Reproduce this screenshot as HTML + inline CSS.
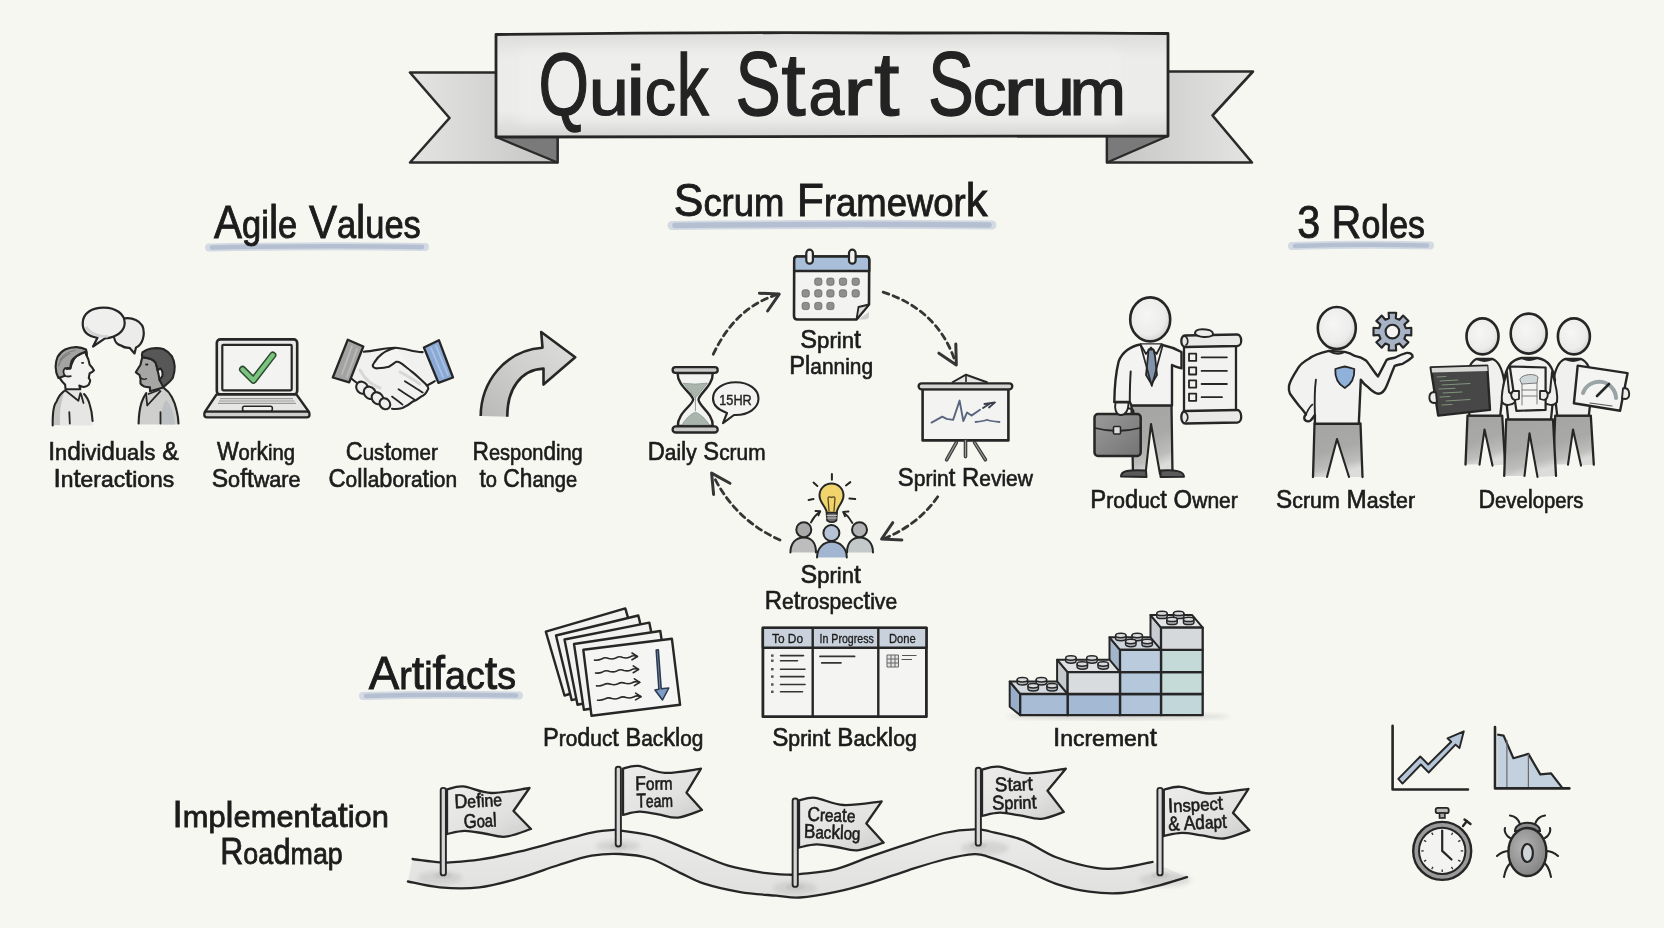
<!DOCTYPE html>
<html><head><meta charset="utf-8"><title>Quick Start Scrum</title>
<style>html,body{margin:0;padding:0;background:#f7f7f2;}svg{display:block;will-change:transform;}text{font-family:"Liberation Sans",sans-serif;}</style>
</head><body>
<svg width="1664" height="928" viewBox="0 0 1664 928" font-family="Liberation Sans, sans-serif">
<defs>
<linearGradient id="bodyg" x1="0" y1="0" x2="0" y2="1">
<stop offset="0" stop-color="#dcdcdb"/><stop offset="0.25" stop-color="#ececea"/><stop offset="0.75" stop-color="#ececea"/><stop offset="1" stop-color="#d6d6d5"/></linearGradient>
<linearGradient id="tailg" x1="0" y1="0" x2="1" y2="0">
<stop offset="0" stop-color="#e4e4e2"/><stop offset="0.6" stop-color="#d2d2d1"/><stop offset="1" stop-color="#c4c4c3"/></linearGradient>
<linearGradient id="tailg2" x1="1" y1="0" x2="0" y2="0">
<stop offset="0" stop-color="#e4e4e2"/><stop offset="0.6" stop-color="#d2d2d1"/><stop offset="1" stop-color="#c4c4c3"/></linearGradient>
<linearGradient id="arrg" x1="0" y1="1" x2="1" y2="0"><stop offset="0" stop-color="#b9b9b8"/><stop offset="0.5" stop-color="#cfcfce"/><stop offset="1" stop-color="#dededd"/></linearGradient>
<radialGradient id="headg" cx="0.42" cy="0.4" r="0.65"><stop offset="0" stop-color="#f6f6f5"/><stop offset="0.7" stop-color="#ececeb"/><stop offset="1" stop-color="#cfcfce"/></radialGradient>
<linearGradient id="pantg" x1="0" y1="0" x2="1" y2="1"><stop offset="0" stop-color="#949494"/><stop offset="0.5" stop-color="#a9a9a9"/><stop offset="1" stop-color="#c4c4c3"/></linearGradient>
<linearGradient id="bcg" x1="0" y1="0" x2="1" y2="1"><stop offset="0" stop-color="#9a9a9a"/><stop offset="1" stop-color="#747474"/></linearGradient>
<linearGradient id="flagg" x1="0" y1="0" x2="1" y2="1"><stop offset="0" stop-color="#ececeb"/><stop offset="0.6" stop-color="#e2e2e1"/><stop offset="1" stop-color="#cdcdcc"/></linearGradient>
<linearGradient id="roadg" x1="0" y1="0" x2="0" y2="1"><stop offset="0" stop-color="#ebebe9"/><stop offset="1" stop-color="#e0e0de"/></linearGradient>
<radialGradient id="bugg" cx="0.4" cy="0.4" r="0.7"><stop offset="0" stop-color="#b4b4b4"/><stop offset="1" stop-color="#7e7e7e"/></radialGradient>
<linearGradient id="pantv" x1="0" y1="0" x2="0.25" y2="1"><stop offset="0" stop-color="#a4a4a3"/><stop offset="0.55" stop-color="#a9a9a8"/><stop offset="0.85" stop-color="#bdbdbc"/><stop offset="1" stop-color="#dcdcda"/></linearGradient>
<filter id="blur4"><feGaussianBlur stdDeviation="4"/></filter>
<filter id="blur2"><feGaussianBlur stdDeviation="2"/></filter>
<filter id="blur1"><feGaussianBlur stdDeviation="1"/></filter>
<filter id="soft"><feGaussianBlur stdDeviation="0.35"/></filter>
</defs>
<rect width="1664" height="928" fill="#f7f7f2"/>
<g id="banner">
<path d="M410,72.5 L497,72.5 L497,137 L557.5,137 L557.5,162.5 L410,162.5 L449.5,118 Z" fill="url(#tailg)" stroke="#2a2a2a" stroke-width="2.6" stroke-linejoin="round"/>
<path d="M496,137 L557.5,137 L557.5,162.5 Z" fill="#7a7a7a" stroke="#2a2a2a" stroke-width="2.2" stroke-linejoin="round"/>
<path d="M1253,71.5 L1167,71.5 L1167,136 L1107,136 L1107,162.5 L1252,162.5 L1212.5,115.5 Z" fill="url(#tailg2)" stroke="#2a2a2a" stroke-width="2.6" stroke-linejoin="round"/>
<path d="M1168,136 L1107,136 L1107,162.5 Z" fill="#7a7a7a" stroke="#2a2a2a" stroke-width="2.2" stroke-linejoin="round"/>
<path d="M496,34.5 Q700,32 900,33 Q1050,32.5 1168,33.5 L1168,136 Q900,137.5 496,137 Z" fill="url(#bodyg)" stroke="#262626" stroke-width="2.8" stroke-linejoin="round"/>
<rect x="520" y="48" width="600" height="76" fill="#f1f1ef" opacity="0.55" filter="url(#blur4)"/>
</g>
<text x="0" y="0" font-size="100" fill="#232323" stroke="#232323" stroke-width="1.57" transform="matrix(0.6490 0 0 0.8822 538.43 114.50)">Q</text>
<text x="0" y="0" font-size="100" fill="#232323" stroke="#232323" stroke-width="1.72" transform="matrix(0.7227 0 0 0.6757 588.81 114.50)">u</text>
<text x="0" y="0" font-size="100" fill="#232323" stroke="#232323" stroke-width="1.52" transform="matrix(0.8761 0 0 0.7038 626.04 114.50)">i</text>
<text x="0" y="0" font-size="100" fill="#232323" stroke="#232323" stroke-width="1.86" transform="matrix(0.6239 0 0 0.6635 644.65 114.50)">c</text>
<text x="0" y="0" font-size="100" fill="#232323" stroke="#232323" stroke-width="1.58" transform="matrix(0.6404 0 0 0.8763 676.68 114.50)">k</text>
<text x="0" y="0" font-size="100" fill="#232323" stroke="#232323" stroke-width="1.51" transform="matrix(0.6775 0 0 0.9137 735.42 115.00)">S</text>
<text x="0" y="0" font-size="100" fill="#232323" stroke="#232323" stroke-width="1.35" transform="matrix(0.8811 0 0 0.8941 781.17 115.00)">t</text>
<text x="0" y="0" font-size="100" fill="#232323" stroke="#232323" stroke-width="1.83" transform="matrix(0.6444 0 0 0.6690 808.46 115.00)">a</text>
<text x="0" y="0" font-size="100" fill="#232323" stroke="#232323" stroke-width="1.53" transform="matrix(0.9040 0 0 0.6690 842.90 115.00)">r</text>
<text x="0" y="0" font-size="100" fill="#232323" stroke="#232323" stroke-width="1.31" transform="matrix(0.9202 0 0 0.9049 874.11 115.00)">t</text>
<text x="0" y="0" font-size="100" fill="#232323" stroke="#232323" stroke-width="1.50" transform="matrix(0.6896 0 0 0.9152 928.07 114.50)">S</text>
<text x="0" y="0" font-size="100" fill="#232323" stroke="#232323" stroke-width="1.78" transform="matrix(0.6749 0 0 0.6728 972.63 114.50)">c</text>
<text x="0" y="0" font-size="100" fill="#232323" stroke="#232323" stroke-width="1.50" transform="matrix(0.9280 0 0 0.6728 1003.04 114.50)">r</text>
<text x="0" y="0" font-size="100" fill="#232323" stroke="#232323" stroke-width="1.62" transform="matrix(0.7957 0 0 0.6852 1031.13 114.50)">u</text>
<text x="0" y="0" font-size="100" fill="#232323" stroke="#232323" stroke-width="1.78" transform="matrix(0.6793 0 0 0.6728 1069.49 114.50)">m</text>
<path d="M209,247.5 Q317.0,245.5 425,247" stroke="#c9d2de" stroke-width="8" stroke-linecap="round" fill="none" opacity="0.8"/>
<path d="M212,247.5 Q317.0,245.5 422,247" stroke="#b0bdcf" stroke-width="4.5" stroke-linecap="round" fill="none" opacity="0.9"/>
<text x="214.07" y="238.3" font-size="47" textLength="206.73" lengthAdjust="spacingAndGlyphs" fill="#1c1c1c" font-weight="normal" stroke="#1c1c1c" stroke-width="0.9"><tspan font-size="47.00">A</tspan><tspan font-size="38.54">gi</tspan><tspan font-size="46.06">l</tspan><tspan font-size="38.54">e</tspan><tspan font-size="47.00"> V</tspan><tspan font-size="38.54">a</tspan><tspan font-size="46.06">l</tspan><tspan font-size="38.54">ues</tspan></text>
<path d="M672,225.5 Q832.0,223.5 992,225" stroke="#c9d2de" stroke-width="9" stroke-linecap="round" fill="none" opacity="0.8"/>
<path d="M675,225.5 Q832.0,223.5 989,225" stroke="#b0bdcf" stroke-width="5.5" stroke-linecap="round" fill="none" opacity="0.9"/>
<text x="673.73" y="216.0" font-size="47" textLength="313.76" lengthAdjust="spacingAndGlyphs" fill="#1c1c1c" font-weight="normal" stroke="#1c1c1c" stroke-width="0.9"><tspan font-size="47.00">S</tspan><tspan font-size="38.54">crum</tspan><tspan font-size="47.00"> F</tspan><tspan font-size="38.54">ramewor</tspan><tspan font-size="46.06">k</tspan></text>
<path d="M1292,246.0 Q1361.0,244.0 1430,245.5" stroke="#c9d2de" stroke-width="8" stroke-linecap="round" fill="none" opacity="0.8"/>
<path d="M1295,246.0 Q1361.0,244.0 1427,245.5" stroke="#b0bdcf" stroke-width="4.5" stroke-linecap="round" fill="none" opacity="0.9"/>
<text x="1297.18" y="238.0" font-size="47" textLength="127.80" lengthAdjust="spacingAndGlyphs" fill="#1c1c1c" font-weight="normal" stroke="#1c1c1c" stroke-width="0.9"><tspan font-size="47.00">3 R</tspan><tspan font-size="38.54">o</tspan><tspan font-size="46.06">l</tspan><tspan font-size="38.54">es</tspan></text>
<path d="M363,696.0 Q441.0,694.0 519,695.5" stroke="#c9d2de" stroke-width="8" stroke-linecap="round" fill="none" opacity="0.8"/>
<path d="M366,696.0 Q441.0,694.0 516,695.5" stroke="#b0bdcf" stroke-width="4.5" stroke-linecap="round" fill="none" opacity="0.9"/>
<text x="368.66" y="689.0" font-size="47" textLength="147.25" lengthAdjust="spacingAndGlyphs" fill="#1c1c1c" font-weight="normal" stroke="#1c1c1c" stroke-width="0.9"><tspan font-size="47.00">A</tspan><tspan font-size="38.54">r</tspan><tspan font-size="46.06">t</tspan><tspan font-size="38.54">i</tspan><tspan font-size="46.06">f</tspan><tspan font-size="38.54">ac</tspan><tspan font-size="46.06">t</tspan><tspan font-size="38.54">s</tspan></text>
<text x="172.61" y="826.9" font-size="36" textLength="216.29" lengthAdjust="spacingAndGlyphs" fill="#1c1c1c" font-weight="normal" stroke="#1c1c1c" stroke-width="0.8"><tspan font-size="36.00">I</tspan><tspan font-size="30.24">mp</tspan><tspan font-size="35.28">l</tspan><tspan font-size="30.24">emen</tspan><tspan font-size="35.28">t</tspan><tspan font-size="30.24">a</tspan><tspan font-size="35.28">t</tspan><tspan font-size="30.24">ion</tspan></text>
<text x="220.28" y="864.4" font-size="36" textLength="122.44" lengthAdjust="spacingAndGlyphs" fill="#1c1c1c" font-weight="normal" stroke="#1c1c1c" stroke-width="0.8"><tspan font-size="36.00">R</tspan><tspan font-size="30.24">oa</tspan><tspan font-size="35.28">d</tspan><tspan font-size="30.24">map</tspan></text>
<text x="48.14" y="460.3" font-size="26" textLength="130.72" lengthAdjust="spacingAndGlyphs" fill="#1c1c1c" font-weight="normal" stroke="#1c1c1c" stroke-width="0.65"><tspan font-size="26.00">I</tspan><tspan font-size="22.88">n</tspan><tspan font-size="25.74">d</tspan><tspan font-size="22.88">ivi</tspan><tspan font-size="25.74">d</tspan><tspan font-size="22.88">ua</tspan><tspan font-size="25.74">l</tspan><tspan font-size="22.88">s</tspan><tspan font-size="26.00"> &amp;</tspan></text>
<text x="53.42" y="487.2" font-size="26" textLength="120.88" lengthAdjust="spacingAndGlyphs" fill="#1c1c1c" font-weight="normal" stroke="#1c1c1c" stroke-width="0.65"><tspan font-size="26.00">I</tspan><tspan font-size="22.88">n</tspan><tspan font-size="25.74">t</tspan><tspan font-size="22.88">erac</tspan><tspan font-size="25.74">t</tspan><tspan font-size="22.88">ions</tspan></text>
<text x="216.92" y="460.3" font-size="26" textLength="78.05" lengthAdjust="spacingAndGlyphs" fill="#1c1c1c" font-weight="normal" stroke="#1c1c1c" stroke-width="0.65"><tspan font-size="26.00">W</tspan><tspan font-size="22.88">or</tspan><tspan font-size="25.74">k</tspan><tspan font-size="22.88">ing</tspan></text>
<text x="211.71" y="487.2" font-size="26" textLength="88.93" lengthAdjust="spacingAndGlyphs" fill="#1c1c1c" font-weight="normal" stroke="#1c1c1c" stroke-width="0.65"><tspan font-size="26.00">S</tspan><tspan font-size="22.88">o</tspan><tspan font-size="25.74">ft</tspan><tspan font-size="22.88">ware</tspan></text>
<text x="345.74" y="460.3" font-size="26" textLength="92.08" lengthAdjust="spacingAndGlyphs" fill="#1c1c1c" font-weight="normal" stroke="#1c1c1c" stroke-width="0.65"><tspan font-size="26.00">C</tspan><tspan font-size="22.88">us</tspan><tspan font-size="25.74">t</tspan><tspan font-size="22.88">omer</tspan></text>
<text x="328.42" y="486.8" font-size="26" textLength="128.61" lengthAdjust="spacingAndGlyphs" fill="#1c1c1c" font-weight="normal" stroke="#1c1c1c" stroke-width="0.65"><tspan font-size="26.00">C</tspan><tspan font-size="22.88">o</tspan><tspan font-size="25.74">ll</tspan><tspan font-size="22.88">a</tspan><tspan font-size="25.74">b</tspan><tspan font-size="22.88">ora</tspan><tspan font-size="25.74">t</tspan><tspan font-size="22.88">ion</tspan></text>
<text x="472.46" y="460.3" font-size="26" textLength="110.21" lengthAdjust="spacingAndGlyphs" fill="#1c1c1c" font-weight="normal" stroke="#1c1c1c" stroke-width="0.65"><tspan font-size="26.00">R</tspan><tspan font-size="22.88">espon</tspan><tspan font-size="25.74">d</tspan><tspan font-size="22.88">ing</tspan></text>
<text x="479.48" y="486.8" font-size="26" textLength="97.69" lengthAdjust="spacingAndGlyphs" fill="#1c1c1c" font-weight="normal" stroke="#1c1c1c" stroke-width="0.65"><tspan font-size="25.74">t</tspan><tspan font-size="22.88">o</tspan><tspan font-size="26.00"> C</tspan><tspan font-size="25.74">h</tspan><tspan font-size="22.88">ange</tspan></text>
<text x="800.28" y="347.9" font-size="26" textLength="60.68" lengthAdjust="spacingAndGlyphs" fill="#1c1c1c" font-weight="normal" stroke="#1c1c1c" stroke-width="0.65"><tspan font-size="26.00">S</tspan><tspan font-size="22.88">prin</tspan><tspan font-size="25.74">t</tspan></text>
<text x="789.28" y="373.9" font-size="26" textLength="83.74" lengthAdjust="spacingAndGlyphs" fill="#1c1c1c" font-weight="normal" stroke="#1c1c1c" stroke-width="0.65"><tspan font-size="26.00">P</tspan><tspan font-size="25.74">l</tspan><tspan font-size="22.88">anning</tspan></text>
<text x="647.68" y="459.9" font-size="26" textLength="117.87" lengthAdjust="spacingAndGlyphs" fill="#1c1c1c" font-weight="normal" stroke="#1c1c1c" stroke-width="0.65"><tspan font-size="26.00">D</tspan><tspan font-size="22.88">ai</tspan><tspan font-size="25.74">l</tspan><tspan font-size="22.88">y</tspan><tspan font-size="26.00"> S</tspan><tspan font-size="22.88">crum</tspan></text>
<text x="897.84" y="486.1" font-size="26" textLength="135.08" lengthAdjust="spacingAndGlyphs" fill="#1c1c1c" font-weight="normal" stroke="#1c1c1c" stroke-width="0.65"><tspan font-size="26.00">S</tspan><tspan font-size="22.88">prin</tspan><tspan font-size="25.74">t</tspan><tspan font-size="26.00"> R</tspan><tspan font-size="22.88">eview</tspan></text>
<text x="800.59" y="582.9" font-size="26" textLength="60.16" lengthAdjust="spacingAndGlyphs" fill="#1c1c1c" font-weight="normal" stroke="#1c1c1c" stroke-width="0.65"><tspan font-size="26.00">S</tspan><tspan font-size="22.88">prin</tspan><tspan font-size="25.74">t</tspan></text>
<text x="764.66" y="609.1" font-size="26" textLength="132.45" lengthAdjust="spacingAndGlyphs" fill="#1c1c1c" font-weight="normal" stroke="#1c1c1c" stroke-width="0.65"><tspan font-size="26.00">R</tspan><tspan font-size="22.88">e</tspan><tspan font-size="25.74">t</tspan><tspan font-size="22.88">rospec</tspan><tspan font-size="25.74">t</tspan><tspan font-size="22.88">ive</tspan></text>
<text x="1090.26" y="508.1" font-size="26" textLength="147.56" lengthAdjust="spacingAndGlyphs" fill="#1c1c1c" font-weight="normal" stroke="#1c1c1c" stroke-width="0.65"><tspan font-size="26.00">P</tspan><tspan font-size="22.88">ro</tspan><tspan font-size="25.74">d</tspan><tspan font-size="22.88">uc</tspan><tspan font-size="25.74">t</tspan><tspan font-size="26.00"> O</tspan><tspan font-size="22.88">wner</tspan></text>
<text x="1276.12" y="508.1" font-size="26" textLength="138.91" lengthAdjust="spacingAndGlyphs" fill="#1c1c1c" font-weight="normal" stroke="#1c1c1c" stroke-width="0.65"><tspan font-size="26.00">S</tspan><tspan font-size="22.88">crum</tspan><tspan font-size="26.00"> M</tspan><tspan font-size="22.88">as</tspan><tspan font-size="25.74">t</tspan><tspan font-size="22.88">er</tspan></text>
<text x="1478.44" y="508.1" font-size="26" textLength="105.07" lengthAdjust="spacingAndGlyphs" fill="#1c1c1c" font-weight="normal" stroke="#1c1c1c" stroke-width="0.65"><tspan font-size="26.00">D</tspan><tspan font-size="22.88">eve</tspan><tspan font-size="25.74">l</tspan><tspan font-size="22.88">opers</tspan></text>
<text x="542.98" y="746.2" font-size="26" textLength="160.33" lengthAdjust="spacingAndGlyphs" fill="#1c1c1c" font-weight="normal" stroke="#1c1c1c" stroke-width="0.65"><tspan font-size="26.00">P</tspan><tspan font-size="22.88">ro</tspan><tspan font-size="25.74">d</tspan><tspan font-size="22.88">uc</tspan><tspan font-size="25.74">t</tspan><tspan font-size="26.00"> B</tspan><tspan font-size="22.88">ac</tspan><tspan font-size="25.74">kl</tspan><tspan font-size="22.88">og</tspan></text>
<text x="772.23" y="746.2" font-size="26" textLength="144.62" lengthAdjust="spacingAndGlyphs" fill="#1c1c1c" font-weight="normal" stroke="#1c1c1c" stroke-width="0.65"><tspan font-size="26.00">S</tspan><tspan font-size="22.88">prin</tspan><tspan font-size="25.74">t</tspan><tspan font-size="26.00"> B</tspan><tspan font-size="22.88">ac</tspan><tspan font-size="25.74">kl</tspan><tspan font-size="22.88">og</tspan></text>
<text x="1052.91" y="746.2" font-size="26" textLength="103.95" lengthAdjust="spacingAndGlyphs" fill="#1c1c1c" font-weight="normal" stroke="#1c1c1c" stroke-width="0.65"><tspan font-size="26.00">I</tspan><tspan font-size="22.88">ncremen</tspan><tspan font-size="25.74">t</tspan></text>
<g id="bubbles" stroke="#262626" stroke-width="2.2" stroke-linejoin="round">
<path d="M121,345.5 C110,343 112.5,322 121,319.5 C130,316 144,320 143.8,333 C143.5,343 138,347 136,347.5 L134.5,353.5 L129.5,347.8 C126,348 123,347 121,345.5 Z" fill="#ececeb"/>
<path d="M97.5,337.8 C86,336 82.5,330 82.7,323 C83,313 92,307.5 104,307.6 C116,307.8 124.8,314 124.7,323 C124.6,331 117,337.5 105,338.4 L93,346.5 Z" fill="#efefee"/>
<path d="M86,327 C90,334 100,337 108,336.5" stroke="#c8c8c8" stroke-width="3" fill="none" opacity="0.7"/>
</g>
<g id="p1" stroke="#262626" stroke-width="2.1" stroke-linejoin="round" stroke-linecap="round">
<path d="M52.7,425.4 C52.5,412 53.5,405 56.5,401.7 C58.5,396 61,393 64.1,391.2 L65.6,389.3 L80.3,389.3 L84.1,394.1 C87,397 88.5,400.5 89.7,404.5 C91.5,410 92.3,415 92.6,421 L92.6,425.4 Z" fill="#e6e6e5" stroke="none"/>
<path d="M52.7,425.4 C52.5,412 53.5,405 56.5,401.7 C58,398 60,394 64.1,391.2" fill="#c9c9c8" stroke="none" opacity="0.6"/>
<path d="M54,425 C54,412 55,406 58,401.5 C60,397.5 62,394 64.1,391.2 L62,400 C60,408 59.5,416 60,425 Z" fill="#c4c4c3" stroke="none"/>
<path d="M52.7,425.4 C52.5,412 53.5,405 56.5,401.7 C58,398 60,394 64.1,391.2" fill="none"/>
<path d="M84.1,394.1 C87,397 88.5,400.5 89.7,404.5 C91.5,410 92.3,415 92.6,421" fill="none"/>
<path d="M65.1,390.3 L78.4,400.7 L80.3,393.1 M81,394 L83.5,403" fill="none" stroke-width="1.8"/>
<path d="M69.3,412.1 L69.8,423.5" fill="none" stroke-width="1.8"/>
<path d="M65.6,389.3 L65.1,384.6 C61,381 58,376 57,370 L70.3,368.5 C72,362 74,358 76.5,356.1 L86,351.4 L86.9,356.1 C88.5,359 89.2,362 89.7,364.7 C91.5,366.5 93,368.5 94,370.4 C93,371.8 91.3,372.6 89.7,373.2 C89.3,375 89,376.5 88.8,378 C89.6,379 90.2,380 90.2,380.8 C89.8,382.3 89.3,383.5 88.8,384.6 C87.5,386 86,386.7 84.1,387 C82.3,386.6 80.8,386 79.3,385.5 L80.3,389.3 Z" fill="#f2f2f1"/>
<path d="M55.6,366.6 C55.8,362.5 56.4,359.5 57.5,357.1 C59.5,353.5 62,351 65.1,349.5 C69,347.7 72.5,347 76.5,347.1 C80,347.3 83.3,348.2 86,349.5 C86.8,351.5 87,353.8 86.9,356.1 C85.5,354.3 85.5,352.8 86,351.4 C82.5,352.5 79.5,354 76.5,356.1 C74.3,357.6 72.8,359.2 71.7,360.9 C70.8,363.4 70.4,366 70.3,368.5 C68.5,368 66.7,368 65.1,368.5 C64.8,371 65,373.5 65.8,375.5 C63,376.5 60,377.3 58.4,378 C56.5,374.5 55.6,370.5 55.6,366.6 Z" fill="#a3a3a2"/>
<path d="M60,360 C63,355 68,351.5 75,350.5 M58.5,366 C60,360 64,356 70,353.5" fill="none" stroke="#7a7a7a" stroke-width="1.1"/>
<path d="M65.1,368.5 C62.8,369.5 62.8,374.5 65.8,376 C67.5,376.8 69.5,376.5 70.8,376.1" fill="#ececeb" stroke-width="1.8"/>
<path d="M82,362.8 L83.2,362.8" stroke-width="1.8"/>
</g>
<g id="p2" stroke="#262626" stroke-width="2.1" stroke-linejoin="round" stroke-linecap="round">
<path d="M138.6,424.5 C138.8,415 139.8,408 141.5,402.6 C143,398.5 144.5,395.5 146.2,393.1 L150,391.2 L163.3,387.4 L164.3,388.4 C167.5,390.5 170,393.5 171.8,396.9 C174,401 175.7,405.5 176.6,410.2 C177.7,414.5 178.3,419 178.5,424.5 Z" fill="#cfcfce" stroke="none"/>
<path d="M166,400 C170,404 173.5,410 175,424.5 L161,424.5 C161,415 162,405 166,400 Z" fill="#b9bdc2" stroke="none" opacity="0.8"/>
<path d="M138.6,423.5 C138.8,415 139.8,408 141.5,402.6 C143,398.5 144.5,395.5 146.2,393.1" fill="none"/>
<path d="M164.3,388.4 C167.5,390.5 170,393.5 171.8,396.9 C174,401 175.7,405.5 176.6,410.2 C177.7,414.5 178.3,419 178.5,423.5" fill="none"/>
<path d="M146.2,395 L147.2,405.5 L160.5,391.2 M148.5,394 L159,390" fill="none" stroke-width="1.8"/>
<path d="M160.5,412.1 L160.5,423.5" fill="none" stroke-width="1.8"/>
<path d="M150,391.2 L150,387.4 C148,387.2 146,387 144.3,386.5 C142.5,385.7 141.2,384.8 140.5,383.6 C140.4,382 140.4,380.5 140.5,378.9 C140.2,377.6 139.8,376.3 139.6,375.1 C138.2,374.3 136.8,373.3 135.8,372.3 C137.2,369.8 138.8,367.3 140.5,364.7 C141,362 141.6,359.5 142.4,357.1 L151,359 C153.5,360 155,361.5 155.7,362.8 C156.5,365.2 157.2,367.8 157.6,370.4 C158.5,373.5 159,376.5 159.5,379.8 C161,381.8 162.2,383.6 163.3,385.5 L163.3,387.4 Z" fill="#a6a6a5"/>
<path d="M142.4,352.3 C145,350.3 148,349 151,348.5 C155,348 159.5,348 163.3,349 C166.8,350.8 169.8,353.3 171.8,356.1 C173.5,359.3 174.5,362.8 174.7,366.6 C174.8,370.5 174,374.5 172.8,378 C171,380.6 168.8,382.8 166.2,384.6 C165.2,385.6 164.2,386.5 163.3,387.4 C162.2,385 161,382.5 159.5,379.8 C160.5,378.5 161.5,377.2 162.4,376.1 C162.8,373.5 162,370 160.5,368.5 C159.5,369 158.5,369.6 157.6,370.4 C157.2,367.8 156.5,365.2 155.7,362.8 C154.5,361.2 152.9,359.8 151,359 C148,358 145,357.5 142.4,357.1 C141.8,355.5 141.8,353.8 142.4,352.3 Z" fill="#575757"/>
<path d="M146,364.5 L147.5,364.5" stroke-width="1.8"/>
<path d="M141.2,378 C142.6,379.4 144.5,379.7 146.5,378.6" fill="none" stroke-width="1.3"/>
</g>
<g id="laptop" stroke="#262626" stroke-linejoin="round">
<rect x="216.8" y="339.4" width="80.4" height="55" rx="3.5" fill="#e9e9e8" stroke-width="2.6"/>
<rect x="222.3" y="344.9" width="69.4" height="45.4" rx="1" fill="#f3f3f1" stroke-width="2.2"/>
<path d="M216.5,394.5 L296.5,394.5 L309,412 L204.8,412 Z" fill="#e6e6e5" stroke-width="2.3"/>
<rect x="204.3" y="411.7" width="105.2" height="5.6" rx="2.6" fill="#cfcfce" stroke-width="2.3"/>
<path d="M220,398.6 L293,398.6 M219,401 L294.5,401 M218,403.4 L296,403.4" stroke="#9a9a9a" stroke-width="1.2"/>
<rect x="242.6" y="406.3" width="29.7" height="4.8" rx="1.8" fill="#efefee" stroke-width="1.6"/>
<path d="M242.6,369.4 L253.4,380.2 L272.8,355.1" fill="none" stroke="#2c4a2e" stroke-width="7.2" stroke-linecap="round" stroke-linejoin="round"/>
<path d="M242.6,369.4 L253.4,380.2 L272.8,355.1" fill="none" stroke="#7ac47f" stroke-width="4.2" stroke-linecap="round" stroke-linejoin="round"/>
</g>
<g id="hands" stroke="#262626" stroke-width="2.1" stroke-linejoin="round" stroke-linecap="round">
<path d="M356,350 C370,350.5 385,347.5 395.2,347.7 C405,348 414,352.5 422.7,352.1 L440,381 L434.8,381.2 C432,383 430,384.5 427.6,385.2 C428.5,388 428.5,390 427.6,390 C426,394 424,396 421.1,396.6 C418,399 416,400.5 413,401.4 C409,404.5 406,406.5 402.5,407.9 C398.5,409 395,409 392,408.7 L388,407.5 C385,407.8 381,404.5 378,401 L356,384 L351.6,378.8 Z" fill="#f1f1f0" stroke="none"/>
<path d="M360,370 C365,380 372,385 380,388 M400,372 C408,376 414,380 420,384" fill="none" stroke="#c8c8c8" stroke-width="3" opacity="0.6"/>
<path d="M363.7,351.7 C375,351 386,347.5 395.2,347.7 C405,348 414,352.5 422.7,352.1" fill="none"/>
<path d="M395.2,348 C389,349.5 385.5,351 382.3,353.7 C378.5,356.5 376,359.5 374.2,362.6 C373,364 372.5,365.5 373,366.7 C374,368 375.5,368.6 377.5,368.3 C381,368 385,367.6 388.8,366.7 C391.5,365.3 393.8,363.3 396,361.8 C397.5,361.6 399,361.9 400.1,362.6 C402.5,364 404.5,365.8 406.6,367.5 C409.3,369.5 412,371.8 414.6,373.9 C417.3,376.3 420,378.8 422.7,381.2 C424,382.5 425.5,383.9 426.7,385.2" fill="#f4f4f3"/>
<path d="M426.7,385.2 C428.5,387.5 428.8,389 427.6,390 C426,393.5 424,395.6 421.1,396.6 C418.5,398.7 416,400.4 413,401.4 C409.5,404.3 406.3,406.5 402.5,407.9 C399,409 395.5,409.2 392,408.7" fill="none"/>
<path d="M404.9,381.2 C411,385 417,389 422.7,392.5 M398.5,389.3 C404,393 409.5,396.5 414.6,399.8 M392,396.6 C396,399.5 399.5,402 402.5,404.6" fill="none" stroke-width="1.8"/>
<path d="M351.6,378.8 C353.5,380.5 355.8,382.3 358.1,383.6 M427.6,385.2 C430,384 432.5,382.5 434.8,381.2" fill="none"/>
<ellipse cx="362.1" cy="387.7" rx="5.6" ry="6.4" transform="rotate(-40 362.1 387.7)" fill="#eeeeed"/>
<ellipse cx="369.8" cy="392.8" rx="5.6" ry="6.6" transform="rotate(-40 369.8 392.8)" fill="#eeeeed"/>
<ellipse cx="377.5" cy="398.3" rx="5.4" ry="6.4" transform="rotate(-40 377.5 398.3)" fill="#eeeeed"/>
<ellipse cx="384.9" cy="403.8" rx="5.0" ry="5.8" transform="rotate(-40 384.9 403.8)" fill="#eeeeed"/>
<path d="M347.8,339.7 L363.3,346.5 L349.2,382.4 L332.8,377.5 Z" fill="#a3a3a2" stroke-width="2.3"/>
<path d="M352,346 L342,374 M357,349 L347,377" stroke="#c4c4c4" stroke-width="1.8" opacity="0.7"/>
<path d="M423.9,347.5 L438.9,340.2 L453,377.5 L438.4,382.8 Z" fill="#8aa9d5" stroke-width="2.3"/>
<path d="M431,348 L443,377 M436,346 L448,375" stroke="#b9cce6" stroke-width="1.8" opacity="0.7"/>
</g>
<path d="M480.7,416 C481,383 504,350.5 542.5,347.7 L541.2,332 L575.2,357.3 L543.5,384.5 L543.5,368.6 C521,369.5 507,389 507.3,416.7" fill="url(#arrg)" stroke="#262626" stroke-width="2.6" stroke-linejoin="round"/>
<g id="cal" stroke="#262626" stroke-linejoin="round">
<path d="M869,312 L869,317 Q868,319.5 864,319.5 L858,319.5 Z" fill="#cfcfce" stroke="none"/>
<path d="M797,256.5 L866,256.5 Q869.2,256.5 869.2,260 L869,304.5 L856.5,319.5 L797.5,319.5 Q794,319.5 794,316 L794.2,260 Q794.2,256.5 797,256.5 Z" fill="#f3f3f1" stroke-width="2.6"/>
<path d="M797,256.5 L866,256.5 Q869.2,256.5 869.2,260 L869.2,271 L794.2,271 L794.2,260 Q794.2,256.5 797,256.5 Z" fill="#a9bfd9" stroke-width="2.4"/>
<path d="M856.5,319.3 L858.5,307 L869,304.5 Z" fill="#dcdcdb" stroke-width="1.8"/>
<rect x="806.3" y="249.7" width="6.6" height="14" rx="3.3" fill="#f3f3f1" stroke-width="2.2"/>
<rect x="849.0" y="249.7" width="6.6" height="14" rx="3.3" fill="#f3f3f1" stroke-width="2.2"/>
<rect x="814.7" y="278.1" width="7.2" height="7.2" rx="2.2" fill="#8f8f8f" stroke="#6a6a6a" stroke-width="0.8"/>
<rect x="826.8" y="278.1" width="7.2" height="7.2" rx="2.2" fill="#8f8f8f" stroke="#6a6a6a" stroke-width="0.8"/>
<rect x="839.4" y="278.1" width="7.2" height="7.2" rx="2.2" fill="#8f8f8f" stroke="#6a6a6a" stroke-width="0.8"/>
<rect x="852.1" y="278.1" width="7.2" height="7.2" rx="2.2" fill="#8f8f8f" stroke="#6a6a6a" stroke-width="0.8"/>
<rect x="802.1" y="289.8" width="7.2" height="7.2" rx="2.2" fill="#8f8f8f" stroke="#6a6a6a" stroke-width="0.8"/>
<rect x="814.7" y="289.8" width="7.2" height="7.2" rx="2.2" fill="#8f8f8f" stroke="#6a6a6a" stroke-width="0.8"/>
<rect x="826.8" y="289.8" width="7.2" height="7.2" rx="2.2" fill="#8f8f8f" stroke="#6a6a6a" stroke-width="0.8"/>
<rect x="839.4" y="289.8" width="7.2" height="7.2" rx="2.2" fill="#8f8f8f" stroke="#6a6a6a" stroke-width="0.8"/>
<rect x="852.1" y="289.8" width="7.2" height="7.2" rx="2.2" fill="#8f8f8f" stroke="#6a6a6a" stroke-width="0.8"/>
<rect x="802.1" y="302.4" width="7.2" height="7.2" rx="2.2" fill="#8f8f8f" stroke="#6a6a6a" stroke-width="0.8"/>
<rect x="814.7" y="302.4" width="7.2" height="7.2" rx="2.2" fill="#8f8f8f" stroke="#6a6a6a" stroke-width="0.8"/>
<rect x="826.8" y="302.4" width="7.2" height="7.2" rx="2.2" fill="#8f8f8f" stroke="#6a6a6a" stroke-width="0.8"/>
</g>
<g id="hg" stroke="#262626" stroke-linejoin="round">
<path d="M677.5,373 C677.5,386 692,393 693.2,399.6 C692,406 677.5,413 677.8,426 L712.8,426 C713,413 698.5,406 698.5,399.6 C699.5,393 713,386 712.8,373 Z" fill="#f2f2f0" stroke-width="2.4"/>
<path d="M683.3,383.3 Q695.4,385 707.5,383.1 L696,397.5 L694.8,397.5 Z" fill="#a9b4ad" stroke="#8a9a90" stroke-width="0.8"/>
<path d="M695.4,397 L695.4,411" stroke="#8a9a90" stroke-width="1"/>
<path d="M681.8,425 Q688,415 695.4,412.2 Q703,415 709.5,425 Z" fill="#a9b4ad" stroke="#8a9a90" stroke-width="0.8"/>
<rect x="672.6" y="367.1" width="45.1" height="5.8" rx="2.9" fill="#c9c9c8" stroke-width="2.3"/>
<rect x="672.6" y="426.3" width="45.1" height="6.2" rx="3.1" fill="#c9c9c8" stroke-width="2.3"/>
<path d="M727,413 C717,409.5 713,404 713,398.5 C713,389 723,382.2 735.7,382.2 C748.5,382.2 758.5,389 758.5,398.5 C758.5,408 748.5,415 735.7,415 L734,415 L723,423.2 Z" fill="#f3f3f1" stroke-width="2.1"/>
</g>
<text x="719.3" y="405" font-size="14.5" textLength="32.4" lengthAdjust="spacingAndGlyphs" fill="#222" stroke="#222" stroke-width="0.4">15HR</text>
<g id="board" stroke="#262626" stroke-linejoin="round">
<path d="M952,382.5 L966,374.7 L987.6,382.5" fill="#e6e6e5" stroke-width="2"/>
<path d="M966,375 L966,382" stroke-width="1.6"/>
<rect x="922.6" y="389" width="85.8" height="51.4" fill="#f3f3f1" stroke-width="2.6"/>
<path d="M965.5,440.5 L965.5,456.6 M956.3,442.6 L946.6,459.8 M974.6,442.6 L985.4,459.8" stroke="#3a3a3a" stroke-width="3.6" stroke-linecap="round"/>
<path d="M965.5,440.5 L965.5,456.6 M956.3,442.6 L946.6,459.8 M974.6,442.6 L985.4,459.8" stroke="#9a9a9a" stroke-width="1.2" stroke-linecap="round"/>
<rect x="918.6" y="383.3" width="93.7" height="6" rx="3" fill="#d5d5d4" stroke-width="2.3"/>
<path d="M931.5,422.6 L942.3,416.7 L946.6,418.9 L953.1,419.9 L959.6,400.6 L963.3,421 L967.1,412.4 L971.4,415.6 L980,409.7" fill="none" stroke="#5a6680" stroke-width="1.9" stroke-linejoin="round" stroke-linecap="round"/>
<path d="M984.4,404 L995,402.4 L989,407.5 M990,403.5 L983,408" fill="none" stroke="#3a3f4c" stroke-width="1.8" stroke-linecap="round"/>
<path d="M975.5,422 Q984,421.2 987,419.8 Q990,421.2 999.5,422" fill="none" stroke="#5a6680" stroke-width="1.8" stroke-linecap="round"/>
</g>
<g id="retro" stroke="#262626" stroke-linejoin="round" stroke-linecap="round">
<path d="M831.9,473.9 L831.9,479.7 M813.5,482.6 L817.3,486 M850.3,482.1 L846,485.5 M808.6,500 L813.5,499.1 M849.4,498.6 L855.2,499.1" stroke-width="2"/>
<path d="M826.8,512.7 C826,506 819.5,503 819.5,495.5 C819.5,488.5 825,483.5 831.5,483.5 C838,483.5 843.5,488.5 843.5,495.5 C843.5,503 837,506 836.8,512.7 Z" fill="#f1d56c" stroke-width="2"/>
<path d="M829,511 L828,498 C829,496 830,497 831.5,497.5 C833,497 834,496 835,498 L834,511" fill="none" stroke="#5a4a20" stroke-width="1.3"/>
<path d="M826.5,512.7 L837,512.7 L836.5,520.5 Q831.8,524 827,520.5 Z" fill="#6e6e6e" stroke-width="1.6"/>
<path d="M827,515.5 L836.6,515.5 M827,518 L836.6,518" stroke="#cfcfcf" stroke-width="0.9"/>
<path d="M811,522.4 Q814,516 819.8,511.7 M852.3,522.9 Q849,516.5 843.5,512.2" fill="none" stroke-width="2"/>
<path d="M815.5,511 L820.3,511.2 L818.5,515.5 M848.5,511.5 L843.2,511.8 L845,516.3" fill="none" stroke-width="1.8"/>
<path d="M790.4,552.5 C790.5,543 796,537.5 803.8,537.5 C811.5,537.5 816,543 816,552.5 Z" fill="#bdbdbd" stroke="none"/>
<path d="M790.4,552.5 C790.5,543 796,537.5 803.8,537.5 C811.5,537.5 816,543 816,552.5" fill="none" stroke-width="2"/>
<circle cx="803.8" cy="529.7" r="7.5" fill="#a9a9a9" stroke-width="2"/>
<path d="M847,552.5 C847,543 852,537.5 859.8,537.5 C867.5,537.5 873,543 873,552.5 Z" fill="#c3c8c8" stroke="none"/>
<path d="M847,552.5 C847,543 852,537.5 859.8,537.5 C867.5,537.5 873,543 873,552.5" fill="none" stroke-width="2"/>
<circle cx="859.5" cy="529.7" r="7.5" fill="#b0b2b3" stroke-width="2"/>
<path d="M817,557.5 C817,548 823.5,541.8 831.8,541.8 C840,541.8 846.8,548 846.8,557.5 Z" fill="#a2b5d1" stroke="none"/>
<path d="M817,557.5 C817,548 823.5,541.8 831.8,541.8 C840,541.8 846.8,548 846.8,557.5" fill="none" stroke-width="2"/>
<circle cx="831.4" cy="533" r="8" fill="#b6c3d6" stroke-width="2"/>
</g>
<path d="M713.3,354.2 Q735,308 776,295" fill="none" stroke="#353535" stroke-width="2.8" stroke-dasharray="6 4.5" stroke-linecap="round"/>
<path d="M759.4,293.2 L779.2,294.1 L767.6,311" fill="none" stroke="#353535" stroke-width="3" stroke-linecap="round" stroke-linejoin="round"/>
<path d="M883.1,292.1 Q938,310 955,361" fill="none" stroke="#353535" stroke-width="2.8" stroke-dasharray="6 4.5" stroke-linecap="round"/>
<path d="M938.9,353.2 L956.3,364.9 L955.8,344" fill="none" stroke="#353535" stroke-width="3" stroke-linecap="round" stroke-linejoin="round"/>
<path d="M937.7,496.8 Q918,525 884,538.5" fill="none" stroke="#353535" stroke-width="2.8" stroke-dasharray="6 4.5" stroke-linecap="round"/>
<path d="M892.8,522.7 L881.6,539 L901.9,539.9" fill="none" stroke="#353535" stroke-width="3" stroke-linecap="round" stroke-linejoin="round"/>
<path d="M780,540 Q735,520 713.5,476" fill="none" stroke="#353535" stroke-width="2.8" stroke-dasharray="6 4.5" stroke-linecap="round"/>
<path d="M730,483.3 L711.6,473.1 L713.6,494.4" fill="none" stroke="#353535" stroke-width="3" stroke-linecap="round" stroke-linejoin="round"/>
<g id="po" stroke="#262626" stroke-linejoin="round" stroke-linecap="round">
<path d="M1131.5,405 L1171.5,405 L1172.5,474 L1160,474 L1151,424 L1145.5,474 L1133,474 Z" fill="url(#pantv)" stroke="none"/>
<path d="M1133,474 L1131.5,405 L1171.5,405 L1172.5,474" fill="none" stroke="#262626" stroke-width="2.3" stroke-linejoin="round" stroke-linecap="round"/>
<path d="M1145.5,474 L1151,424 L1160,474" fill="none" stroke="#262626" stroke-width="2.1" stroke-linejoin="round" stroke-linecap="round"/>
<path d="M1121,476.5 C1121,471 1128,469.5 1146,470.5 L1146.5,477 Z" fill="#5a5a5a" stroke-width="2"/>
<path d="M1160.5,470.5 C1175,469.5 1184,471 1184,476.8 L1160.5,477 Z" fill="#5a5a5a" stroke-width="2"/>
<path d="M1140.5,344.5 C1131,346 1122,352 1118.6,361.6 C1116,372 1114.5,388 1114.3,402 L1129.8,402 L1131.5,405.5 L1172,405.5 L1172,365 C1175,366.5 1178,367.5 1181.5,368.4 L1181.5,352 C1176,349 1170,346.5 1163.4,345.2 L1161.5,344.5 Z" fill="#f3f3f2" stroke-width="2.4"/>
<path d="M1130.7,371.5 C1130,382 1129.8,392 1129.8,402" fill="none" stroke-width="2"/>
<path d="M1114.3,402 L1129.8,402" fill="none" stroke-width="2"/>
<path d="M1140.5,344.5 L1146,354 L1151,347.5 L1156.5,354 L1161.5,344.5" fill="#f5f5f4" stroke-width="1.8"/>
<path d="M1148.5,349.5 L1153.5,349.5 L1155,356 L1157,375 L1151.5,384 L1146,375 L1148,356 Z" fill="#8393ab" stroke-width="1.8"/>
<path d="M1140.8,346 L1151.8,386 L1162.5,346" fill="none" stroke-width="1.7"/>
<path d="M1120.5,414 C1120,410 1122,408.5 1124,408.5 L1130,408.5 C1132,408.5 1134,410 1133.5,414" fill="none" stroke-width="2.2"/>
<rect x="1094.5" y="414" width="46.2" height="42" rx="3.5" fill="url(#bcg)" stroke-width="2.5"/>
<path d="M1095,428 Q1117,434 1140,428" fill="none" stroke-width="1.8"/>
<rect x="1113.5" y="426.5" width="7" height="7.5" rx="1" fill="#dcdcdc" stroke-width="1.6"/>
<path d="M1115.5,402.5 C1114.5,408 1115.5,414 1120,415 C1125,415.5 1128.5,411 1128.5,402.5 Z" fill="#f2f2f1" stroke-width="1.9"/>
<path d="M1184,340 L1236,339 L1236,412 L1184,413 Z" fill="#f2f2f1" stroke-width="2.3"/>
<path d="M1185,335.5 L1237,334.5 C1242,334.5 1243,345.5 1237.5,346 L1185.5,347 C1180,347 1180,335.5 1185,335.5 Z" fill="#e9e9e8" stroke-width="2.3"/>
<path d="M1185,411 L1237,410 C1242,410 1243,422 1237.5,422.5 L1185.5,423.5 C1180,423.5 1180,411 1185,411 Z" fill="#e9e9e8" stroke-width="2.3"/>
<path d="M1184.5,336 C1188,337 1189,343 1186,345 M1184.5,412 C1188,413 1189,419 1186,421.5" fill="none" stroke-width="1.6"/>
<path d="M1195,333.5 C1195,329 1201,329 1206,329.5 C1211,330 1214,332 1212.5,335.5 C1209,337.5 1198,338 1195,333.5 Z" fill="#ededec" stroke-width="1.9"/>
<rect x="1189.0" y="353.7" width="7.2" height="7.2" fill="none" stroke-width="1.8"/>
<path d="M1201.6,357.3 L1226.9,357.3" stroke-width="1.8"/>
<rect x="1189.0" y="367.3" width="7.2" height="7.2" fill="none" stroke-width="1.8"/>
<path d="M1201.6,370.9 L1226.9,370.9" stroke-width="1.8"/>
<rect x="1189.0" y="380.4" width="7.2" height="7.2" fill="none" stroke-width="1.8"/>
<path d="M1201.6,384.0 L1226.9,384.0" stroke-width="1.8"/>
<rect x="1189.0" y="393.6" width="7.2" height="7.2" fill="none" stroke-width="1.8"/>
<path d="M1201.6,397.2 L1222.0,397.2" stroke-width="1.8"/>
</g>
<ellipse cx="1150.2" cy="319.4" rx="20" ry="22" fill="url(#headg)" stroke="#262626" stroke-width="2.6"/>
<g id="sm" stroke="#262626" stroke-linejoin="round" stroke-linecap="round">
<path d="M1314.5,423.5 L1360.5,423.5 L1362.5,477 L1349,477 L1337,439 L1327,477 L1313,477 Z" fill="url(#pantv)" stroke="none"/>
<path d="M1313,477 L1314.5,423.5 L1360.5,423.5 L1362.5,477" fill="none" stroke="#262626" stroke-width="2.3" stroke-linejoin="round" stroke-linecap="round"/>
<path d="M1327,477 L1337,439 L1349,477" fill="none" stroke="#262626" stroke-width="2.1" stroke-linejoin="round" stroke-linecap="round"/>
<path d="M1328.9,350.9 C1320,353 1313,355.5 1308.9,358.8 C1303,362 1299,366 1297,369.8 C1293,376 1290,381 1289,385.8 C1288.5,389 1289,391.5 1290,393.8 C1293,398 1296,402 1299,405.7 C1302,409 1304.5,412 1306,414.5 C1304,416 1303.5,419 1305.5,420.5 C1307.5,422 1310,421.5 1311.5,419.5 L1314.9,415 L1314.9,423.7 L1358.8,423.7 L1360.8,379.8 C1363,383 1366,386 1368.8,387.8 C1372,391 1375,393.5 1378.7,393.8 C1382,393.5 1385,390 1386.7,385.8 C1389.5,379 1392,372 1394.7,365.8 C1397,365 1400,364.5 1402.7,363.8 C1406,362 1410,359.5 1412.6,356.9 C1413,354.5 1410,352.5 1406.7,352.9 C1402,354 1398,356 1394.7,357.8 C1391,358.5 1388.5,359 1386.7,359.8 C1384,365 1381,371 1378,376.5 C1374,372 1370,365 1366,360.5 C1362,357.5 1358,356.5 1354.8,355.9 C1351,353.5 1348,352.5 1344.8,351.9 Z" fill="#f2f2f1" stroke-width="2.4"/>
<path d="M1328.9,350.9 Q1337,356 1344.8,351.9" fill="none" stroke-width="1.8"/>
<path d="M1315.9,379.8 C1314.5,390 1314.5,402 1314.9,415" fill="none" stroke-width="1.9"/>
<path d="M1306,414.5 C1308,410 1309,407 1312.5,404.5" fill="none" stroke-width="1.6"/>
<path d="M1335.3,369 Q1340,367.5 1344.8,366.5 Q1349.5,367.5 1354.3,369 Q1355,382 1344.8,388 Q1334.5,382 1335.3,369 Z" fill="#8fb1da" stroke-width="1.8"/>
<path d="M1405.8,328.2 L1411.3,327.8 L1411.3,335.4 L1405.8,335.0 L1404.3,338.6 L1408.5,342.3 L1403.1,347.7 L1399.4,343.5 L1395.8,345.0 L1396.2,350.5 L1388.6,350.5 L1389.0,345.0 L1385.4,343.5 L1381.7,347.7 L1376.3,342.3 L1380.5,338.6 L1379.0,335.0 L1373.5,335.4 L1373.5,327.8 L1379.0,328.2 L1380.5,324.6 L1376.3,320.9 L1381.7,315.5 L1385.4,319.7 L1389.0,318.2 L1388.6,312.7 L1396.2,312.7 L1395.8,318.2 L1399.4,319.7 L1403.1,315.5 L1408.5,320.9 L1404.3,324.6 Z" fill="#a7b2c5" stroke-width="2.1"/>
<circle cx="1392.4" cy="331.6" r="6.8" fill="#f4f4f3" stroke-width="2.1"/>
</g>
<ellipse cx="1336.8" cy="328.0" rx="19" ry="21" fill="url(#headg)" stroke="#262626" stroke-width="2.6"/>
<g id="devs" stroke="#262626" stroke-linejoin="round" stroke-linecap="round">
<path d="M1467.5,415.6 L1502.2,415.6 L1505.2,464.6 L1492.5,465.6 L1484.5,429.6 L1479.5,464.6 L1465.5,464.6 Z" fill="url(#pantv)" stroke="none"/>
<path d="M1465.5,464.6 L1467.5,415.6 L1502.2,415.6 L1505.2,464.6" fill="none" stroke="#262626" stroke-width="2.3" stroke-linejoin="round" stroke-linecap="round"/>
<path d="M1479.5,464.6 L1484.5,429.6 L1492.5,465.6" fill="none" stroke="#262626" stroke-width="2.1" stroke-linejoin="round" stroke-linecap="round"/>
<path d="M1476.5,359 C1471.5,361 1467.5,369 1465.5,381 L1469.5,415.6 L1500.2,415.6 L1504.2,381 C1502.2,369 1498.2,361 1492.5,359 Z" fill="#f0f0ef" stroke-width="2.3"/>
<path d="M1476.5,359 Q1484.5,363 1492.5,359" fill="none" stroke-width="1.8"/>
<path d="M1555.2,415.6 L1590.8,415.6 L1593.8,464.6 L1581,465.6 L1573,429.6 L1568,464.6 L1553.2,464.6 Z" fill="url(#pantv)" stroke="none"/>
<path d="M1553.2,464.6 L1555.2,415.6 L1590.8,415.6 L1593.8,464.6" fill="none" stroke="#262626" stroke-width="2.3" stroke-linejoin="round" stroke-linecap="round"/>
<path d="M1568,464.6 L1573,429.6 L1581,465.6" fill="none" stroke="#262626" stroke-width="2.1" stroke-linejoin="round" stroke-linecap="round"/>
<path d="M1565,359 C1559.2,361 1555.2,369 1553.2,381 L1557.2,415.6 L1588.8,415.6 L1592.8,381 C1590.8,369 1586.8,361 1581,359 Z" fill="#f0f0ef" stroke-width="2.3"/>
<path d="M1565,359 Q1573,363 1581,359" fill="none" stroke-width="1.8"/>
</g>
<ellipse cx="1482.5" cy="336.4" rx="16" ry="18" fill="url(#headg)" stroke="#262626" stroke-width="2.6"/>
<ellipse cx="1573.9" cy="336.4" rx="16" ry="18" fill="url(#headg)" stroke="#262626" stroke-width="2.6"/>
<g id="devs2" stroke="#262626" stroke-linejoin="round" stroke-linecap="round">
<path d="M1506.2,419.3 L1553,419.3 L1556,475.9 L1537.5,476.9 L1529.5,433.3 L1524.5,475.9 L1504.2,475.9 Z" fill="url(#pantv)" stroke="none"/>
<path d="M1504.2,475.9 L1506.2,419.3 L1553,419.3 L1556,475.9" fill="none" stroke="#262626" stroke-width="2.3" stroke-linejoin="round" stroke-linecap="round"/>
<path d="M1524.5,475.9 L1529.5,433.3 L1537.5,476.9" fill="none" stroke="#262626" stroke-width="2.1" stroke-linejoin="round" stroke-linecap="round"/>
<path d="M1521.5,358 C1510.2,360 1506.2,368 1504.2,380 L1508.2,419.3 L1551,419.3 L1555,380 C1553,368 1549,360 1537.5,358 Z" fill="#f0f0ef" stroke-width="2.3"/>
<path d="M1521.5,358 Q1529.5,362 1537.5,358" fill="none" stroke-width="1.8"/>
<path d="M1507,372 C1503,385 1501,395 1502,402 C1505,407 1512,405 1517,401 L1517,393 C1513,394 1510,394 1509,392 Z" fill="#f0f0ef" stroke-width="2"/>
<path d="M1552,372 C1556,385 1558,395 1557,402 C1554,407 1547,405 1542,401 L1542,393 C1546,394 1549,394 1550,392 Z" fill="#f0f0ef" stroke-width="2"/>
<path d="M1509.8,366.5 L1545.6,367.5 L1545.6,409.9 L1516.4,410.8 Z" fill="#f3f3f2" stroke-width="2.2"/>
<path d="M1520,379 C1522,374 1535,373 1538,377 L1537,383 L1522,384 Z M1522,384 L1522,405 M1537,383 L1537,404 M1522,390 L1537,390 M1522,396 L1537,396" fill="#cfd7d9" stroke="#7a7a7a" stroke-width="1"/>
<path d="M1513,391 C1510,394 1511,399 1515,400 L1519,399 L1519,391 Z" fill="#ededec" stroke-width="1.8"/>
<path d="M1546,391 C1549,394 1548,399 1544,400 L1540,399 L1540,391 Z" fill="#ededec" stroke-width="1.8"/>
<path d="M1430.7,367.5 L1487.2,365.6 L1490,409.9 L1438.2,415.6 Z" fill="#474747" stroke-width="2.4"/>
<path d="M1431.6,368 L1487.3,366.2 L1487.6,371 L1432,372.5 Z" fill="#d7d7d6" stroke="none"/>
<path d="M1437,377 L1446,376.5 M1440,381 L1458,380 M1442,385 L1470,383.5 M1439,389 L1455,388.3 M1443,393 L1462,392 M1440,397 L1450,396.5 M1446,401 L1470,399.5 M1442,405 L1452,404.5" stroke="#8fa88a" stroke-width="1" opacity="0.8"/>
<path d="M1433.5,392 C1428,393 1428,402 1433.5,403 L1437,402.5 L1436,392.5 Z" fill="#ededec" stroke-width="1.9"/>
<path d="M1577.7,365.6 L1627.6,373.1 L1620.1,410.8 L1573.9,403.3 Z" fill="#f4f4f3" stroke-width="2.4"/>
<path d="M1583,393 A17,17 0 0 1 1616,398" fill="none" stroke="#9aa3a5" stroke-width="4"/>
<path d="M1597,396 L1609,384" stroke-width="2.6"/>
<path d="M1590,403 L1612,406" stroke="#555" stroke-width="1.2"/>
<path d="M1624.8,388 C1630,388.5 1631,398 1625.5,399 L1622,398.5 L1623,388.5 Z" fill="#ededec" stroke-width="1.9"/>
</g>
<ellipse cx="1528.7" cy="333.6" rx="18" ry="20" fill="url(#headg)" stroke="#262626" stroke-width="2.6"/>
<path d="M545.8,631.7 L625.3,608.4 L644.0,672.2 L564.5,695.5 Z" fill="#f2f2f1" stroke="#262626" stroke-width="2.4" stroke-linejoin="round"/>
<path d="M556.0,635.5 L638.3,615.5 L654.0,680.1 L571.7,700.1 Z" fill="#f2f2f1" stroke="#262626" stroke-width="2.4" stroke-linejoin="round"/>
<path d="M564.5,639.5 L649.3,622.6 L662.3,687.8 L577.5,704.7 Z" fill="#f2f2f1" stroke="#262626" stroke-width="2.4" stroke-linejoin="round"/>
<path d="M574.0,644.0 L660.3,631.0 L670.2,696.8 L583.9,709.8 Z" fill="#f2f2f1" stroke="#262626" stroke-width="2.4" stroke-linejoin="round"/>
<path d="M583.3,649.8 L671.9,638.8 L680.1,704.8 L591.5,715.8 Z" fill="#f5f5f4" stroke="#262626" stroke-width="2.4" stroke-linejoin="round"/>
<path d="M594.5,660.1 Q598.0,660.6 601.6,659.0 Q605.1,656.9 608.7,658.5 Q612.2,659.6 615.8,658.0 Q619.3,655.9 622.8,657.5 Q626.4,658.6 629.9,657.0 Q633.5,654.9 637.0,656.5" fill="none" stroke="#2a2a2a" stroke-width="1.6" stroke-linecap="round"/>
<path d="M632.0,653.0 L637.5,656.5 L632.0,659.8" fill="none" stroke="#2a2a2a" stroke-width="1.6" stroke-linecap="round" stroke-linejoin="round"/>
<path d="M595.5,673.0 Q599.1,673.5 602.6,671.9 Q606.2,669.8 609.7,671.4 Q613.3,672.5 616.9,670.9 Q620.4,668.8 624.0,670.4 Q627.5,671.5 631.1,669.9 Q634.6,667.8 638.2,669.4" fill="none" stroke="#2a2a2a" stroke-width="1.6" stroke-linecap="round"/>
<path d="M633.2,665.9 L638.7,669.4 L633.2,672.7" fill="none" stroke="#2a2a2a" stroke-width="1.6" stroke-linecap="round" stroke-linejoin="round"/>
<path d="M596.5,685.9 Q600.1,686.4 603.6,684.8 Q607.2,682.7 610.8,684.3 Q614.4,685.4 618.0,683.8 Q621.5,681.7 625.1,683.3 Q628.7,684.4 632.2,682.8 Q635.8,680.7 639.4,682.3" fill="none" stroke="#2a2a2a" stroke-width="1.6" stroke-linecap="round"/>
<path d="M634.4,678.8 L639.9,682.3 L634.4,685.6" fill="none" stroke="#2a2a2a" stroke-width="1.6" stroke-linecap="round" stroke-linejoin="round"/>
<path d="M597.5,700.2 Q601.1,700.7 604.7,699.1 Q608.3,697.0 611.9,698.6 Q615.5,699.7 619.0,698.1 Q622.6,696.0 626.2,697.6 Q629.8,698.7 633.4,697.1 Q637.0,695.0 640.6,696.6" fill="none" stroke="#2a2a2a" stroke-width="1.6" stroke-linecap="round"/>
<path d="M635.6,693.1 L641.1,696.6 L635.6,699.9" fill="none" stroke="#2a2a2a" stroke-width="1.6" stroke-linecap="round" stroke-linejoin="round"/>
<path d="M656.2,650 L658.3,649.7 L661.2,688.8 L668.8,688 L662.5,700 L655,690 L658.9,689.3 Z" fill="#7f9cc4" stroke="#2d3a4f" stroke-width="1.6" stroke-linejoin="round"/>
<g id="sb" stroke="#262626" stroke-linejoin="round">
<rect x="762.9" y="627.9" width="163.5" height="88.8" fill="#f4f4f3" stroke-width="2.8"/>
<rect x="762.9" y="627.9" width="163.5" height="19.8" fill="#c9d2dc" stroke-width="2.4"/>
<path d="M812.7,628 L812.7,716.5 M878.3,628 L878.3,716.5" stroke-width="2.4"/>
</g>
<text x="772" y="643.2" font-size="13.5" textLength="31.1" lengthAdjust="spacingAndGlyphs" fill="#1c1c1c" stroke="#1c1c1c" stroke-width="0.35">To Do</text>
<text x="819.5" y="643.2" font-size="13.5" textLength="54.3" lengthAdjust="spacingAndGlyphs" fill="#1c1c1c" stroke="#1c1c1c" stroke-width="0.35">In Progress</text>
<text x="889" y="643.2" font-size="13.5" textLength="26.7" lengthAdjust="spacingAndGlyphs" fill="#1c1c1c" stroke="#1c1c1c" stroke-width="0.35">Done</text>
<path d="M780.5,655.6 L803.5,655.6" stroke="#333" stroke-width="1.6" stroke-linecap="round"/>
<rect x="771" y="654.4" width="2.6" height="2.4" fill="#555"/>
<path d="M780.5,660.7 L797.5,660.7" stroke="#333" stroke-width="1.6" stroke-linecap="round"/>
<rect x="771" y="659.5" width="2.6" height="2.4" fill="#555"/>
<path d="M780.5,669.2 L805,669.2" stroke="#333" stroke-width="1.6" stroke-linecap="round"/>
<rect x="771" y="668.0" width="2.6" height="2.4" fill="#555"/>
<path d="M780.5,676.6 L804,676.6" stroke="#333" stroke-width="1.6" stroke-linecap="round"/>
<rect x="771" y="675.4" width="2.6" height="2.4" fill="#555"/>
<path d="M780.5,684.5 L805,684.5" stroke="#333" stroke-width="1.6" stroke-linecap="round"/>
<rect x="771" y="683.3" width="2.6" height="2.4" fill="#555"/>
<path d="M780.5,691.8 L802.5,691.8" stroke="#333" stroke-width="1.6" stroke-linecap="round"/>
<rect x="771" y="690.5999999999999" width="2.6" height="2.4" fill="#555"/>
<path d="M820,656.4 L854.6,656.4 M821.7,662.8 L841,662.8" stroke="#333" stroke-width="1.7" stroke-linecap="round"/>
<path d="M887,655 L898.5,655 L898.5,667 L887,667 Z M887,659 L898.5,659 M887,663 L898.5,663 M891,655 L891,667 M895,655 L895,667" fill="#e4e4e4" stroke="#666" stroke-width="1"/>
<path d="M902,655.5 L916.5,655.5 M901.5,659.5 L912,659.5" stroke="#555" stroke-width="1"/>
<ellipse cx="1118" cy="716.5" rx="112" ry="3.2" fill="#c9c9c7" opacity="0.7" filter="url(#blur2)"/>
<g id="inc" stroke="#262626" stroke-linejoin="round">
<path d="M1161.0,627.6 L1150.5,615.1 L1150.5,706.7 L1161.0,715.2 Z" fill="#c8ccd0" stroke-width="2"/>
<path d="M1161.0,627.6 L1202.7,627.6 L1192.2,615.1 L1150.5,615.1 Z" fill="#e1e3e4" stroke-width="2"/>
<path d="M1156.8,613.4 L1156.8,616.4 A5.2,2.2 0 0 0 1167.2,616.4 L1167.2,613.4 Z" fill="#b8bcc0" stroke-width="1.5"/>
<ellipse cx="1162.0" cy="613.4" rx="5.2" ry="2.2" fill="#d9dbdd" stroke-width="1.5"/>
<path d="M1173.5,613.4 L1173.5,616.4 A5.2,2.2 0 0 0 1183.9,616.4 L1183.9,613.4 Z" fill="#b8bcc0" stroke-width="1.5"/>
<ellipse cx="1178.7" cy="613.4" rx="5.2" ry="2.2" fill="#d9dbdd" stroke-width="1.5"/>
<path d="M1166.8,619.4 L1166.8,622.4 A5.2,2.2 0 0 0 1177.2,622.4 L1177.2,619.4 Z" fill="#b8bcc0" stroke-width="1.5"/>
<ellipse cx="1172.0" cy="619.4" rx="5.2" ry="2.2" fill="#d9dbdd" stroke-width="1.5"/>
<path d="M1183.5,619.4 L1183.5,622.4 A5.2,2.2 0 0 0 1193.9,622.4 L1193.9,619.4 Z" fill="#b8bcc0" stroke-width="1.5"/>
<ellipse cx="1188.7" cy="619.4" rx="5.2" ry="2.2" fill="#d9dbdd" stroke-width="1.5"/>
<rect x="1161.0" y="694.0" width="41.7" height="21.2" fill="#c2d7da" stroke-width="2.3"/>
<rect x="1161.0" y="672.2" width="41.7" height="21.8" fill="#c5dbd8" stroke-width="2.3"/>
<rect x="1161.0" y="649.8" width="41.7" height="22.4" fill="#c3dad9" stroke-width="2.3"/>
<rect x="1161.0" y="627.6" width="41.7" height="22.2" fill="#d6d9dc" stroke-width="2.3"/>
<path d="M1120.0,649.8 L1109.5,637.3 L1109.5,706.7 L1120.0,715.2 Z" fill="#a3b5c9" stroke-width="2"/>
<path d="M1120.0,649.8 L1161.0,649.8 L1150.5,637.3 L1109.5,637.3 Z" fill="#cdd6dd" stroke-width="2"/>
<path d="M1115.6,635.5 L1115.6,638.5 A5.2,2.2 0 0 0 1126.0,638.5 L1126.0,635.5 Z" fill="#b8bcc0" stroke-width="1.5"/>
<ellipse cx="1120.8" cy="635.5" rx="5.2" ry="2.2" fill="#d9dbdd" stroke-width="1.5"/>
<path d="M1132.0,635.5 L1132.0,638.5 A5.2,2.2 0 0 0 1142.4,638.5 L1142.4,635.5 Z" fill="#b8bcc0" stroke-width="1.5"/>
<ellipse cx="1137.2" cy="635.5" rx="5.2" ry="2.2" fill="#d9dbdd" stroke-width="1.5"/>
<path d="M1125.6,641.5 L1125.6,644.5 A5.2,2.2 0 0 0 1136.0,644.5 L1136.0,641.5 Z" fill="#b8bcc0" stroke-width="1.5"/>
<ellipse cx="1130.8" cy="641.5" rx="5.2" ry="2.2" fill="#d9dbdd" stroke-width="1.5"/>
<path d="M1142.0,641.5 L1142.0,644.5 A5.2,2.2 0 0 0 1152.4,644.5 L1152.4,641.5 Z" fill="#b8bcc0" stroke-width="1.5"/>
<ellipse cx="1147.2" cy="641.5" rx="5.2" ry="2.2" fill="#d9dbdd" stroke-width="1.5"/>
<rect x="1120.0" y="694.0" width="41.0" height="21.2" fill="#b1c4d9" stroke-width="2.3"/>
<rect x="1120.0" y="672.2" width="41.0" height="21.8" fill="#b5c8db" stroke-width="2.3"/>
<rect x="1120.0" y="649.8" width="41.0" height="22.4" fill="#b9cbdc" stroke-width="2.3"/>
<path d="M1067.6,672.2 L1057.1,659.7 L1057.1,706.7 L1067.6,715.2 Z" fill="#c6cacf" stroke-width="2"/>
<path d="M1067.6,672.2 L1120.0,672.2 L1109.5,659.7 L1057.1,659.7 Z" fill="#dfe1e3" stroke-width="2"/>
<path d="M1065.7,658.0 L1065.7,661.0 A5.2,2.2 0 0 0 1076.1,661.0 L1076.1,658.0 Z" fill="#b8bcc0" stroke-width="1.5"/>
<ellipse cx="1070.9" cy="658.0" rx="5.2" ry="2.2" fill="#d9dbdd" stroke-width="1.5"/>
<path d="M1086.7,658.0 L1086.7,661.0 A5.2,2.2 0 0 0 1097.1,661.0 L1097.1,658.0 Z" fill="#b8bcc0" stroke-width="1.5"/>
<ellipse cx="1091.9" cy="658.0" rx="5.2" ry="2.2" fill="#d9dbdd" stroke-width="1.5"/>
<path d="M1077.1,664.0 L1077.1,667.0 A5.2,2.2 0 0 0 1087.5,667.0 L1087.5,664.0 Z" fill="#b8bcc0" stroke-width="1.5"/>
<ellipse cx="1082.3" cy="664.0" rx="5.2" ry="2.2" fill="#d9dbdd" stroke-width="1.5"/>
<path d="M1098.0,664.0 L1098.0,667.0 A5.2,2.2 0 0 0 1108.4,667.0 L1108.4,664.0 Z" fill="#b8bcc0" stroke-width="1.5"/>
<ellipse cx="1103.2" cy="664.0" rx="5.2" ry="2.2" fill="#d9dbdd" stroke-width="1.5"/>
<rect x="1067.6" y="694.0" width="52.4" height="21.2" fill="#a4b9d4" stroke-width="2.3"/>
<rect x="1067.6" y="672.2" width="52.4" height="21.8" fill="#d9dcdf" stroke-width="2.3"/>
<path d="M1020.2,694.0 L1009.7,681.5 L1009.7,706.7 L1020.2,715.2 Z" fill="#98adc8" stroke-width="2"/>
<path d="M1020.2,694.0 L1067.6,694.0 L1057.1,681.5 L1009.7,681.5 Z" fill="#d3d9df" stroke-width="2"/>
<path d="M1017.2,679.8 L1017.2,682.8 A5.2,2.2 0 0 0 1027.6,682.8 L1027.6,679.8 Z" fill="#b8bcc0" stroke-width="1.5"/>
<ellipse cx="1022.4" cy="679.8" rx="5.2" ry="2.2" fill="#d9dbdd" stroke-width="1.5"/>
<path d="M1036.2,679.8 L1036.2,682.8 A5.2,2.2 0 0 0 1046.6,682.8 L1046.6,679.8 Z" fill="#b8bcc0" stroke-width="1.5"/>
<ellipse cx="1041.4" cy="679.8" rx="5.2" ry="2.2" fill="#d9dbdd" stroke-width="1.5"/>
<path d="M1028.0,685.8 L1028.0,688.8 A5.2,2.2 0 0 0 1038.4,688.8 L1038.4,685.8 Z" fill="#b8bcc0" stroke-width="1.5"/>
<ellipse cx="1033.2" cy="685.8" rx="5.2" ry="2.2" fill="#d9dbdd" stroke-width="1.5"/>
<path d="M1046.9,685.8 L1046.9,688.8 A5.2,2.2 0 0 0 1057.3,688.8 L1057.3,685.8 Z" fill="#b8bcc0" stroke-width="1.5"/>
<ellipse cx="1052.1" cy="685.8" rx="5.2" ry="2.2" fill="#d9dbdd" stroke-width="1.5"/>
<rect x="1020.2" y="694.0" width="47.4" height="21.2" fill="#a9bcd6" stroke-width="2.3"/>
</g>
<path d="M412.6,859.0 C417.1,859.5 433.5,861.8 439.7,862.3 C445.9,862.8 443.4,862.7 450.0,862.3 C456.6,861.9 467.8,861.5 479.3,859.7 C490.8,857.9 505.8,854.8 519.0,851.7 C532.2,848.6 546.6,844.4 558.7,841.2 C570.8,838.0 582.5,834.5 591.7,832.6 C601.0,830.7 609.1,830.2 614.2,829.9 C619.3,829.6 615.4,829.6 622.4,830.8 C629.4,831.9 644.4,833.4 656.0,836.8 C667.6,840.2 680.1,846.5 692.1,851.3 C704.1,856.1 716.2,862.1 728.2,865.7 C740.2,869.3 754.2,871.4 764.2,872.9 C774.2,874.4 782.1,874.5 788.3,874.7 C794.5,874.9 793.2,874.8 801.2,873.9 C809.2,873.0 824.2,872.1 836.0,869.1 C847.8,866.1 860.1,860.1 872.1,855.9 C884.1,851.7 896.2,847.6 908.2,843.8 C920.2,840.0 933.2,835.4 944.2,833.0 C955.2,830.6 966.7,829.6 974.3,829.4 C981.9,829.1 981.9,829.7 990.0,831.5 C998.1,833.3 1012.0,835.8 1023.0,840.1 C1034.0,844.4 1044.0,852.7 1056.1,857.3 C1068.2,861.9 1084.8,866.1 1095.8,867.9 C1106.8,869.7 1112.7,868.9 1122.2,867.9 C1131.7,866.9 1147.5,862.9 1152.6,861.9 L1187,877.1 C1181.7,878.6 1166.1,883.8 1155.3,886.4 C1144.5,889.0 1133.2,892.1 1122.2,893.0 C1111.2,893.9 1100.2,893.2 1089.2,891.7 C1078.2,890.2 1067.1,887.5 1056.1,883.8 C1045.1,880.0 1034.0,873.6 1023.0,869.2 C1012.0,864.8 998.1,859.8 990.0,857.3 C981.9,854.8 981.9,853.7 974.3,854.1 C966.7,854.5 955.2,856.8 944.2,859.5 C933.2,862.2 920.2,866.5 908.2,870.3 C896.2,874.1 884.1,878.7 872.1,882.3 C860.1,885.9 848.0,889.4 836.0,891.9 C824.0,894.4 810.0,896.9 800.0,897.5 C790.0,898.1 786.3,896.6 776.3,895.7 C766.3,894.8 752.2,894.1 740.2,892.1 C728.2,890.1 714.1,886.9 704.1,883.7 C694.1,880.5 689.1,877.1 680.1,872.9 C671.1,868.7 660.0,861.6 650.0,858.5 C640.0,855.4 629.7,854.5 620.0,854.0 C610.3,853.5 601.9,853.9 591.7,855.7 C581.5,857.5 570.8,861.2 558.7,865.0 C546.6,868.8 532.2,874.5 519.0,878.2 C505.8,881.9 492.5,885.9 479.3,887.4 C466.1,888.9 451.6,888.4 439.7,887.4 C427.8,886.4 413.2,882.5 407.9,881.5 Z" fill="url(#roadg)" stroke="none"/>
<ellipse cx="440" cy="878" rx="22" ry="7" fill="#bdbdbc" opacity="0.45" filter="url(#blur2)"/>
<ellipse cx="618" cy="846" rx="22" ry="6" fill="#bdbdbc" opacity="0.45" filter="url(#blur2)"/>
<ellipse cx="795" cy="888" rx="22" ry="7" fill="#bdbdbc" opacity="0.45" filter="url(#blur2)"/>
<ellipse cx="985" cy="848" rx="24" ry="7" fill="#bdbdbc" opacity="0.45" filter="url(#blur2)"/>
<ellipse cx="1165" cy="880" rx="26" ry="7" fill="#bdbdbc" opacity="0.45" filter="url(#blur2)"/>
<path d="M412.6,859.0 C417.1,859.5 433.5,861.8 439.7,862.3 C445.9,862.8 443.4,862.7 450.0,862.3 C456.6,861.9 467.8,861.5 479.3,859.7 C490.8,857.9 505.8,854.8 519.0,851.7 C532.2,848.6 546.6,844.4 558.7,841.2 C570.8,838.0 582.5,834.5 591.7,832.6 C601.0,830.7 609.1,830.2 614.2,829.9 C619.3,829.6 615.4,829.6 622.4,830.8 C629.4,831.9 644.4,833.4 656.0,836.8 C667.6,840.2 680.1,846.5 692.1,851.3 C704.1,856.1 716.2,862.1 728.2,865.7 C740.2,869.3 754.2,871.4 764.2,872.9 C774.2,874.4 782.1,874.5 788.3,874.7 C794.5,874.9 793.2,874.8 801.2,873.9 C809.2,873.0 824.2,872.1 836.0,869.1 C847.8,866.1 860.1,860.1 872.1,855.9 C884.1,851.7 896.2,847.6 908.2,843.8 C920.2,840.0 933.2,835.4 944.2,833.0 C955.2,830.6 966.7,829.6 974.3,829.4 C981.9,829.1 981.9,829.7 990.0,831.5 C998.1,833.3 1012.0,835.8 1023.0,840.1 C1034.0,844.4 1044.0,852.7 1056.1,857.3 C1068.2,861.9 1084.8,866.1 1095.8,867.9 C1106.8,869.7 1112.7,868.9 1122.2,867.9 C1131.7,866.9 1147.5,862.9 1152.6,861.9" fill="none" stroke="#262626" stroke-width="2.3" stroke-linecap="round"/>
<path d="M407.9,881.5 C413.2,882.5 427.8,886.4 439.7,887.4 C451.6,888.4 466.1,888.9 479.3,887.4 C492.5,885.9 505.8,881.9 519.0,878.2 C532.2,874.5 546.6,868.8 558.7,865.0 C570.8,861.2 581.5,857.5 591.7,855.7 C601.9,853.9 610.3,853.5 620.0,854.0 C629.7,854.5 640.0,855.4 650.0,858.5 C660.0,861.6 671.1,868.7 680.1,872.9 C689.1,877.1 694.1,880.5 704.1,883.7 C714.1,886.9 728.2,890.1 740.2,892.1 C752.2,894.1 766.3,894.8 776.3,895.7 C786.3,896.6 790.0,898.1 800.0,897.5 C810.0,896.9 824.0,894.4 836.0,891.9 C848.0,889.4 860.1,885.9 872.1,882.3 C884.1,878.7 896.2,874.1 908.2,870.3 C920.2,866.5 933.2,862.2 944.2,859.5 C955.2,856.8 966.7,854.5 974.3,854.1 C981.9,853.7 981.9,854.8 990.0,857.3 C998.1,859.8 1012.0,864.8 1023.0,869.2 C1034.0,873.6 1045.1,880.0 1056.1,883.8 C1067.1,887.5 1078.2,890.2 1089.2,891.7 C1100.2,893.2 1111.2,893.9 1122.2,893.0 C1133.2,892.1 1144.5,889.0 1155.3,886.4 C1166.1,883.8 1181.7,878.6 1187.0,877.1" fill="none" stroke="#262626" stroke-width="2.3" stroke-linecap="round"/>
<ellipse cx="443.3" cy="875.4" rx="9" ry="3" fill="#bdbdbd" opacity="0.6" filter="url(#blur1)"/>
<path d="M447.0,789.5 C449.7,789.0 455.8,785.8 463.2,786.4 C470.6,787.0 480.3,792.7 491.4,793.0 C502.4,793.2 523.1,788.8 529.5,788.0 L513.5,811 L531,829 C526.7,830.3 513.2,836.0 505.4,836.7 C497.6,837.5 491.1,834.5 484.3,833.5 C477.5,832.5 470.8,830.8 464.6,830.9 C458.4,831.0 449.9,833.5 447.0,834.0 Z" fill="url(#flagg)" stroke="#262626" stroke-width="2.3" stroke-linejoin="round"/>
<rect x="440.7" y="787.9" width="5.2" height="87.5" rx="2.4" fill="#d6d6d6" stroke="#262626" stroke-width="1.9"/>
<text x="454.63" y="807.1" font-size="20" textLength="47.77" lengthAdjust="spacingAndGlyphs" fill="#1c1c1c" stroke="#1c1c1c" stroke-width="0.6" transform="rotate(-3 478.9 807.1)"><tspan font-size="20.00">D</tspan><tspan font-size="17.60">e</tspan><tspan font-size="19.80">f</tspan><tspan font-size="17.60">ine</tspan></text>
<text x="463.86" y="827.3" font-size="20" textLength="33.15" lengthAdjust="spacingAndGlyphs" fill="#1c1c1c" stroke="#1c1c1c" stroke-width="0.6" transform="rotate(-3 480.29999999999995 827.3)"><tspan font-size="20.00">G</tspan><tspan font-size="17.60">oa</tspan><tspan font-size="19.80">l</tspan></text>
<ellipse cx="618.3" cy="846.5" rx="9" ry="3" fill="#bdbdbd" opacity="0.6" filter="url(#blur1)"/>
<path d="M623.0,768.7 C625.5,768.2 631.3,765.2 638.3,765.9 C645.3,766.6 654.5,772.4 665.0,772.9 C675.4,773.4 695.0,769.4 701.0,768.7 L686.5,792.7 L702,810 C698.0,811.3 685.5,816.8 678.2,817.6 C670.9,818.3 664.7,815.3 658.3,814.3 C651.8,813.3 645.5,811.6 639.6,811.7 C633.7,811.8 625.8,814.3 623.0,814.8 Z" fill="url(#flagg)" stroke="#262626" stroke-width="2.3" stroke-linejoin="round"/>
<rect x="615.6999999999999" y="766.7" width="5.2" height="79.79999999999995" rx="2.4" fill="#d6d6d6" stroke="#262626" stroke-width="1.9"/>
<text x="635.36" y="789.8" font-size="20" textLength="37.36" lengthAdjust="spacingAndGlyphs" fill="#1c1c1c" stroke="#1c1c1c" stroke-width="0.6" transform="rotate(-1 654.25 789.8)"><tspan font-size="20.00">F</tspan><tspan font-size="17.60">orm</tspan></text>
<text x="636.45" y="807.1" font-size="20" textLength="36.67" lengthAdjust="spacingAndGlyphs" fill="#1c1c1c" stroke="#1c1c1c" stroke-width="0.6" transform="rotate(-1 654.5 807.1)"><tspan font-size="20.00">T</tspan><tspan font-size="17.60">eam</tspan></text>
<ellipse cx="795.2" cy="886.9" rx="9" ry="3" fill="#bdbdbd" opacity="0.6" filter="url(#blur1)"/>
<path d="M799.0,800.4 C801.7,800.0 807.8,797.0 815.2,797.8 C822.6,798.6 832.4,804.5 843.5,805.0 C854.6,805.6 875.3,801.9 881.7,801.3 L866.3,823.5 L883.7,842.7 C879.3,844.0 865.4,849.5 857.6,850.3 C849.7,851.0 843.2,848.0 836.4,847.0 C829.6,846.0 822.8,844.3 816.6,844.4 C810.4,844.5 801.9,847.0 799.0,847.5 Z" fill="url(#flagg)" stroke="#262626" stroke-width="2.3" stroke-linejoin="round"/>
<rect x="792.6" y="798.5" width="5.2" height="88.39999999999998" rx="2.4" fill="#d6d6d6" stroke="#262626" stroke-width="1.9"/>
<text x="807.12" y="821.5" font-size="20" textLength="48.07" lengthAdjust="spacingAndGlyphs" fill="#1c1c1c" stroke="#1c1c1c" stroke-width="0.6" transform="rotate(2 831.25 821.5)"><tspan font-size="20.00">C</tspan><tspan font-size="17.60">rea</tspan><tspan font-size="19.80">t</tspan><tspan font-size="17.60">e</tspan></text>
<text x="803.69" y="838.8" font-size="20" textLength="56.59" lengthAdjust="spacingAndGlyphs" fill="#1c1c1c" stroke="#1c1c1c" stroke-width="0.6" transform="rotate(2 832.2 838.8)"><tspan font-size="20.00">B</tspan><tspan font-size="17.60">ac</tspan><tspan font-size="19.80">kl</tspan><tspan font-size="17.60">og</tspan></text>
<ellipse cx="978.3" cy="845.6" rx="9" ry="3" fill="#bdbdbd" opacity="0.6" filter="url(#blur1)"/>
<path d="M982.0,769.6 C984.7,769.1 990.9,766.0 998.4,766.6 C1005.9,767.2 1015.9,773.0 1027.1,773.4 C1038.3,773.7 1059.3,769.5 1065.8,768.7 L1047.5,790.8 L1063.8,811.9 C1060.1,813.1 1048.7,818.2 1041.3,818.8 C1034.0,819.4 1026.8,816.4 1019.9,815.4 C1013.0,814.4 1006.2,812.6 999.8,812.7 C993.5,812.8 985.0,815.3 982.0,815.8 Z" fill="url(#flagg)" stroke="#262626" stroke-width="2.3" stroke-linejoin="round"/>
<rect x="975.6999999999999" y="767.7" width="5.2" height="77.89999999999998" rx="2.4" fill="#d6d6d6" stroke="#262626" stroke-width="1.9"/>
<text x="995.04" y="790.8" font-size="20" textLength="37.80" lengthAdjust="spacingAndGlyphs" fill="#1c1c1c" stroke="#1c1c1c" stroke-width="0.6" transform="rotate(-2 1014.3 790.8)"><tspan font-size="20.00">S</tspan><tspan font-size="19.80">t</tspan><tspan font-size="17.60">ar</tspan><tspan font-size="19.80">t</tspan></text>
<text x="992.16" y="809" font-size="20" textLength="44.57" lengthAdjust="spacingAndGlyphs" fill="#1c1c1c" stroke="#1c1c1c" stroke-width="0.6" transform="rotate(-2 1014.8000000000001 809)"><tspan font-size="20.00">S</tspan><tspan font-size="17.60">prin</tspan><tspan font-size="19.80">t</tspan></text>
<ellipse cx="1160" cy="875.4" rx="9" ry="3" fill="#bdbdbd" opacity="0.6" filter="url(#blur1)"/>
<path d="M1163.8,789.8 C1166.6,789.3 1172.8,786.2 1180.4,786.8 C1188.0,787.4 1198.0,793.2 1209.4,793.5 C1220.7,793.8 1242.0,789.6 1248.5,788.8 L1233,812.9 L1249.4,830.2 C1245.1,831.6 1231.7,837.6 1223.8,838.5 C1215.9,839.3 1209.1,836.3 1202.1,835.4 C1195.1,834.5 1188.2,832.8 1181.8,832.9 C1175.5,833.0 1166.8,835.5 1163.8,836.0 Z" fill="url(#flagg)" stroke="#262626" stroke-width="2.3" stroke-linejoin="round"/>
<rect x="1157.4" y="787.9" width="5.2" height="87.5" rx="2.4" fill="#d6d6d6" stroke="#262626" stroke-width="1.9"/>
<text x="1168.14" y="811" font-size="20" textLength="55.19" lengthAdjust="spacingAndGlyphs" fill="#1c1c1c" stroke="#1c1c1c" stroke-width="0.6" transform="rotate(-3 1196.55 811)"><tspan font-size="20.00">I</tspan><tspan font-size="17.60">nspec</tspan><tspan font-size="19.80">t</tspan></text>
<text x="1168.40" y="829.2" font-size="20" textLength="58.73" lengthAdjust="spacingAndGlyphs" fill="#1c1c1c" stroke="#1c1c1c" stroke-width="0.6" transform="rotate(-3 1198.0 829.2)"><tspan font-size="20.00">&amp; A</tspan><tspan font-size="19.80">d</tspan><tspan font-size="17.60">ap</tspan><tspan font-size="19.80">t</tspan></text>
<path d="M1392.6,725.9 L1392.6,789.5 L1468,789.5" fill="none" stroke="#262626" stroke-width="2.6" stroke-linecap="round" stroke-linejoin="round"/>
<path d="M1398.3,778.8 L1420.3,756.5 L1428.2,764.5 L1451.2,741.8 L1447.5,738.3 L1463.8,731.3 L1459.5,748 L1455.5,744.6 L1428.7,772.5 L1420.9,764.5 L1402.5,783.6 Z" fill="#b5c6d9" stroke="#262626" stroke-width="1.9" stroke-linejoin="round"/>
<path d="M1497.2,734.5 L1503.6,735.6 L1513.4,758.2 L1528.4,753.9 L1540.3,774.4 L1551.1,773.3 L1561.9,787.3 L1497.2,787.3 Z" fill="#c3d0de" stroke="none"/>
<path d="M1497.2,734.5 L1503.6,735.6 L1513.4,758.2 L1528.4,753.9 L1540.3,774.4 L1551.1,773.3 L1561.9,787.3" fill="none" stroke="#262626" stroke-width="2.2" stroke-linejoin="round"/>
<path d="M1506.9,740 L1506.9,787 M1528.4,754 L1528.4,787" stroke="#6a6a6a" stroke-width="1.2"/>
<path d="M1495,727 L1495,788.4 L1569.4,788.4" fill="none" stroke="#262626" stroke-width="2.6" stroke-linecap="round" stroke-linejoin="round"/>
<rect x="1435.7" y="807.8" width="13" height="5.4" rx="2" fill="#bdbdbd" stroke="#262626" stroke-width="1.8"/>
<rect x="1439.5" y="813" width="5.4" height="5" fill="#a9a9a9" stroke="#262626" stroke-width="1.6"/>
<path d="M1463,826 L1467,821 M1464.5,819.5 L1470.5,824" stroke="#262626" stroke-width="2.4" stroke-linecap="round"/>
<circle cx="1442.2" cy="850.9" r="29" fill="#9a9a9a" stroke="#262626" stroke-width="2.4"/>
<circle cx="1442.2" cy="850.9" r="23.2" fill="#f3f3f2" stroke="#262626" stroke-width="2"/>
<path d="M1442.2,832.4 L1442.2,829.9" stroke="#333" stroke-width="1.3"/>
<path d="M1451.5,834.9 L1452.7,832.7" stroke="#333" stroke-width="1.3"/>
<path d="M1458.2,841.6 L1460.4,840.4" stroke="#333" stroke-width="1.3"/>
<path d="M1460.7,850.9 L1463.2,850.9" stroke="#333" stroke-width="1.3"/>
<path d="M1458.2,860.1 L1460.4,861.4" stroke="#333" stroke-width="1.3"/>
<path d="M1451.5,866.9 L1452.7,869.1" stroke="#333" stroke-width="1.3"/>
<path d="M1442.2,869.4 L1442.2,871.9" stroke="#333" stroke-width="1.3"/>
<path d="M1433.0,866.9 L1431.7,869.1" stroke="#333" stroke-width="1.3"/>
<path d="M1426.2,860.1 L1424.0,861.4" stroke="#333" stroke-width="1.3"/>
<path d="M1423.7,850.9 L1421.2,850.9" stroke="#333" stroke-width="1.3"/>
<path d="M1426.2,841.6 L1424.0,840.4" stroke="#333" stroke-width="1.3"/>
<path d="M1433.0,834.9 L1431.7,832.7" stroke="#333" stroke-width="1.3"/>
<path d="M1442.2,830.5 L1442.2,850.9 L1451.5,859.5" fill="none" stroke="#262626" stroke-width="2.2" stroke-linecap="round" stroke-linejoin="round"/>
<path d="M1510,838 C1506,836 1504,831 1505,828 M1510,851 C1504,851 1500,853 1497,856 M1511,863 C1506,866 1505,872 1504,877 M1545,838 C1549,836 1551,831 1550,828 M1545,851 C1551,851 1555,853 1558,856 M1544,863 C1549,866 1550,872 1551,877 M1520,824 C1518,818 1514,816 1510,815.5 M1535,824 C1537,818 1541,816 1545,815.5" fill="none" stroke="#262626" stroke-width="2.1" stroke-linecap="round"/>
<path d="M1515,831 C1515,820 1540,820 1540,831 Z" fill="#8a8a8a" stroke="#262626" stroke-width="2"/>
<ellipse cx="1527.4" cy="852" rx="19" ry="24" fill="url(#bugg)" stroke="#262626" stroke-width="2.4"/>
<ellipse cx="1527.4" cy="853" rx="5.5" ry="9" fill="#cfd4d8" stroke="#262626" stroke-width="2.2"/>
</svg>
</body></html>
